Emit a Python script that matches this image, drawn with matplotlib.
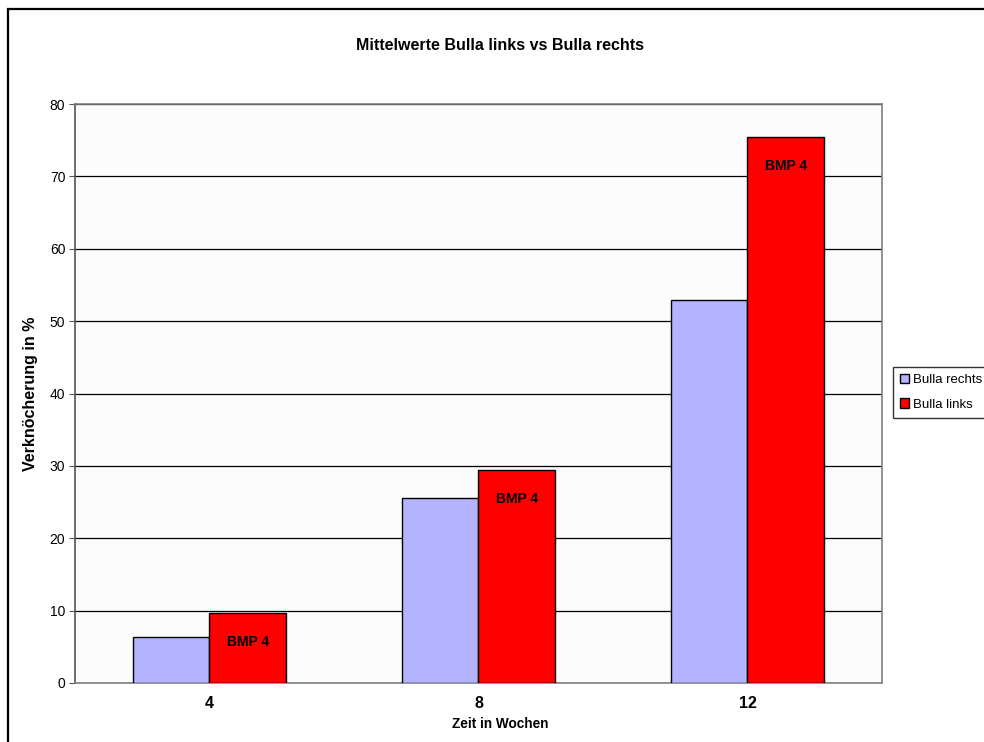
import matplotlib
matplotlib.use("Agg")
import matplotlib.pyplot as plt
from matplotlib.patches import Rectangle
import numpy as np

plt.rcParams['font.family'] = ['Liberation Sans', 'DejaVu Sans']

weeks = ["4", "8", "12"]
bulla_rechts = [6.4, 25.6, 52.9]
bulla_links = [9.7, 29.4, 75.4]
bar_labels = ["BMP 4", "BMP 4", "BMP 4"]

fig = plt.figure(figsize=(9.84, 7.42), dpi=100)
fig.patch.set_facecolor("white")

# outer chart frame (left and top edges lie inside the image)
fig.add_artist(Rectangle((7.5 / 984, -0.01), 1.02, 1 - 9 / 742 + 0.01,
                         transform=fig.transFigure, fill=False,
                         edgecolor="black", linewidth=1.6))

ax = fig.add_axes([75 / 984, 1 - 683 / 742, 807 / 984, 579 / 742])
ax.set_facecolor("#fcfcfc")

x = np.arange(len(weeks))
w = 1 / 3.5
ax.bar(x - w / 2, bulla_rechts, width=w, color="#b3b3ff", edgecolor="black",
       linewidth=1.0, label="Bulla rechts", zorder=3)
bars_l = ax.bar(x + w / 2, bulla_links, width=w, color="#ff0000", edgecolor="black",
                linewidth=1.0, label="Bulla links", zorder=3)

for rect, txt in zip(bars_l, bar_labels):
    ax.annotate(txt, (rect.get_x() + rect.get_width() / 2, rect.get_height()),
                xytext=(0, -21), textcoords="offset points", ha="center",
                va="center", fontsize=10, fontweight="bold", zorder=4)

ax.set_xlim(-0.5, 2.5)
ax.set_ylim(0, 80)
ax.set_yticks(range(0, 81, 10))
ax.set_xticks(x)
ax.set_xticklabels(weeks, fontsize=11.5, fontweight="bold")
ax.tick_params(axis="x", length=0, pad=9)
ax.tick_params(axis="y", length=4, direction="out", labelsize=10, pad=3,
               color="#555555")
ax.yaxis.grid(True, color="black", linewidth=0.9, zorder=1)
ax.set_axisbelow(True)

for side in ["top", "right", "bottom"]:
    ax.spines[side].set_color("#808080")
    ax.spines[side].set_linewidth(1.2)
ax.spines["left"].set_color("#555555")
ax.spines["left"].set_linewidth(1.2)

ax.set_xlabel("Zeit in Wochen", fontsize=9.8, fontweight="bold")
ax.xaxis.set_label_coords((500 - 75) / 807, -0.058)
ax.set_ylabel("Verknöcherung in %", fontsize=11.5, fontweight="bold")
ax.yaxis.set_label_coords(-(75 - 38) / 807, 0.5)

fig.text(500 / 984, 1 - 45 / 742, "Mittelwerte Bulla links vs Bulla rechts",
         ha="center", va="center", fontsize=11.5, fontweight="bold")

leg = fig.legend(loc="upper left", bbox_to_anchor=(893 / 984, 1 - 367 / 742),
                 frameon=True, fancybox=False, edgecolor="black",
                 fontsize=9.5, handlelength=0.7, handleheight=0.7,
                 handletextpad=0.3, borderpad=0.55, labelspacing=0.9,
                 borderaxespad=0)
leg.get_frame().set_linewidth(1.0)

fig.savefig("out.png", dpi=100)
